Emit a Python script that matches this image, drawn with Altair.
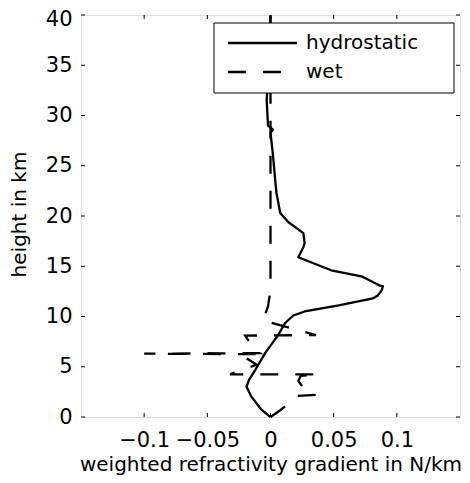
import altair as alt
import pandas as pd

# hydrostatic profile (x: N/km, y: km), ordered bottom to top
hyd_x = [0.0, -0.007, -0.015, -0.019, -0.017, -0.012, -0.004, 0.006, 0.0116, 0.018, 0.027, 0.054,
         0.081, 0.085, 0.088, 0.089, 0.086, 0.072, 0.048, 0.022, 0.026, 0.027, 0.026, 0.014,
         0.0077, 0.0047, 0.0037, 0.002, 0.0, 0.002, -0.002, -0.003, -0.001, 0.0]
hyd_y = [0.0, 0.7, 2.0, 3.0, 3.7, 4.7, 6.4, 8.15, 9.35, 10.1, 10.5, 11.1,
         11.8, 12.1, 12.6, 13.0, 13.1, 14.0, 14.6, 15.9, 16.9, 17.3, 18.3, 19.4,
         20.3, 22.3, 23.6, 26.0, 28.3, 28.6, 29.0, 31.5, 36.0, 40.0]

# wet profile
wet_x = [0.0, 0.008, 0.014, 0.020, 0.036, 0.026, 0.022, 0.024, 0.038, -0.032, -0.011, -0.021,
         -0.011, -0.1, -0.008, -0.016, -0.02, 0.036, -0.006, -0.002, 0.0, 0.0]
wet_y = [0.0, 0.7, 1.3, 2.1, 2.2, 2.9, 3.6, 4.1, 4.25, 4.25, 5.2, 6.0,
         6.25, 6.3, 6.35, 7.35, 8.1, 8.15, 9.6, 11.0, 12.6, 40.0]

x_ticks = [-0.1, -0.05, 0, 0.05, 0.1]
y_ticks = [0, 5, 10, 15, 20, 25, 30, 35, 40]

W, H = 379, 402
FONT = "DejaVu Sans"
FS_LAB = 21
FS_TIT = 20
TL = 4
DASH = [18, 17]

hyd = pd.DataFrame({"x": hyd_x, "y": hyd_y, "i": range(len(hyd_x))})
wet = pd.DataFrame({"x": wet_x, "y": wet_y, "i": range(len(wet_x))})
xt = pd.DataFrame({"x": x_ticks})
yt = pd.DataFrame({"y": y_ticks})

xs = alt.Scale(domain=[-0.15, 0.15], nice=False, zero=False)
ys = alt.Scale(domain=[0, 40], nice=False, zero=False)

xaxis = alt.Axis(values=x_ticks, format="~g", title="weighted refractivity gradient in N/km",
                 grid=False, domain=False, ticks=False, labelPadding=12, labelFontSize=FS_LAB,
                 titleFontSize=FS_TIT, titleFont=FONT, labelFont=FONT, labelColor="black",
                 titleColor="black", titleFontWeight="normal",
                 titleY=53, titleBaseline="alphabetic", titleX=W / 2, titleAlign="center")
yaxis = alt.Axis(values=y_ticks, title="height in km", grid=False, domain=False, ticks=False,
                 labelPadding=9, labelFontSize=FS_LAB, titleFontSize=FS_TIT, titleFont=FONT,
                 labelFont=FONT, labelColor="black", titleColor="black",
                 labelOffset={"condition": {"test": "datum.value == 40", "value": 4}, "value": 0},
                 titleFontWeight="normal", titleX=-62, titleY=199, titleAngle=270,
                 titleBaseline="middle", titleAlign="center")

X = alt.X("x:Q", scale=xs, axis=xaxis)
Y = alt.Y("y:Q", scale=ys, axis=yaxis)

hyd_line = alt.Chart(hyd).mark_line(color="black", strokeWidth=2.3, strokeJoin="round").encode(
    x=X, y=Y, order="i:Q")
wet_line = alt.Chart(wet).mark_line(color="black", strokeWidth=2.3, strokeDash=DASH).encode(
    x=X, y=Y, order="i:Q")

tb = alt.Chart(xt).mark_rule(color="black", strokeWidth=1).encode(
    x=X, y=alt.value(H), y2=alt.value(H - TL))
tt = alt.Chart(xt).mark_rule(color="black", strokeWidth=1).encode(
    x=X, y=alt.value(0), y2=alt.value(TL))
tl = alt.Chart(yt).mark_rule(color="black", strokeWidth=1).encode(
    y=Y, x=alt.value(0), x2=alt.value(TL))
tr = alt.Chart(yt).mark_rule(color="black", strokeWidth=1).encode(
    y=Y, x=alt.value(W), x2=alt.value(W - TL))

leg_df = pd.DataFrame({"k": [0]})
leg_box = alt.Chart(leg_df).mark_rect(fill="white", stroke="black", strokeWidth=1).encode(
    x=alt.value(133), x2=alt.value(373), y=alt.value(8), y2=alt.value(78))
leg_l1 = alt.Chart(leg_df).mark_rule(color="black", strokeWidth=2.3).encode(
    x=alt.value(147), x2=alt.value(216), y=alt.value(28))
leg_l2 = alt.Chart(leg_df).mark_rule(color="black", strokeWidth=2.3, strokeDash=DASH).encode(
    x=alt.value(147), x2=alt.value(216), y=alt.value(57))
leg_t1 = alt.Chart(leg_df).mark_text(text="hydrostatic", align="left", baseline="middle",
                                     font=FONT, fontSize=FS_TIT, color="black").encode(
    x=alt.value(225), y=alt.value(28))
leg_t2 = alt.Chart(leg_df).mark_text(text="wet", align="left", baseline="middle",
                                     font=FONT, fontSize=FS_TIT, color="black").encode(
    x=alt.value(225), y=alt.value(57))

chart = alt.layer(hyd_line, wet_line, tb, tt, tl, tr, leg_box, leg_l1, leg_l2, leg_t1, leg_t2).properties(
    width=W, height=H,
    autosize=alt.AutoSizeParams(type="none"),
    padding={"left": 73, "top": 7, "right": 2, "bottom": 58},
).configure_view(stroke="black", strokeWidth=1.5).configure(background="white")

chart.save("out.html", embed_options={"renderer": "svg", "actions": False})
